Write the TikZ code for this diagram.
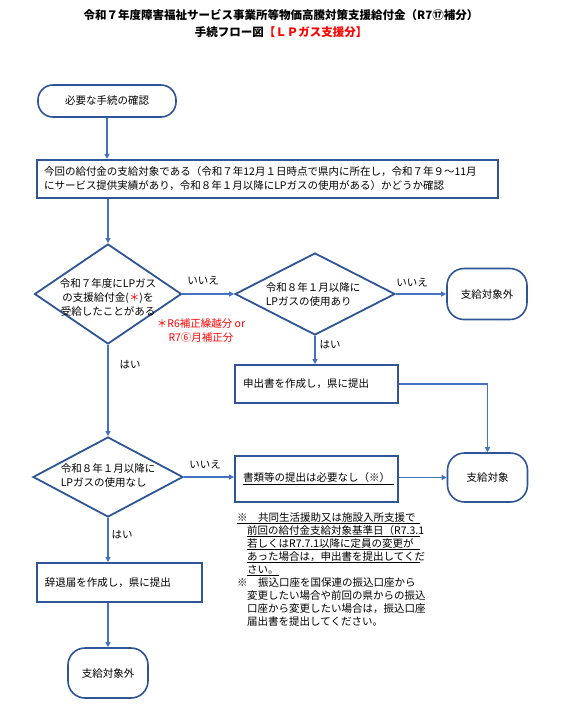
\documentclass[tikz,border=0pt]{standalone}
\usepackage{fontspec}
\setmainfont{Noto Sans CJK JP}
\usetikzlibrary{shapes.geometric,arrows.meta,calc}
\definecolor{bord}{HTML}{2F5597}
\definecolor{arr}{HTML}{4472C4}
\begin{document}
\begin{tikzpicture}[x=1pt,y=-1pt,
  every node/.style={font=\fontsize{10.5}{14}\selectfont, inner sep=0pt},
  box/.style={draw=bord, line width=1.8pt, rectangle, align=left},
  term/.style={draw=bord, line width=1.6pt, rectangle, rounded corners=17pt, minimum width=80pt, minimum height=51pt},
  dia/.style={draw=bord, line width=1.8pt, diamond, inner sep=0pt},
  flow/.style={draw=arr, line width=1.5pt, -{Triangle[length=5pt,width=5pt]}},
  ttl/.style={font=\fontsize{11.5}{14}\selectfont\bfseries},
  note/.style={anchor=base west, font=\fontsize{10.5}{13}\selectfont}
]
\useasboundingbox (0,0) rectangle (583,705);
\fill[white] (0,0) rectangle (583,705);

% title
\node[ttl] (t1) at (281,15) {令和７年度障害福祉サービス事業所等物価高騰対策支援給付金（R7⑰補分）};
\node[ttl] (t2) at (281,32) {手続フロー図\textcolor{red}{【ＬＰガス支援分】}};

% nodes
\node[draw=bord, line width=1.6pt, rectangle, rounded corners=15pt, minimum width=138pt, minimum height=32pt] (start) at (107,101) {必要な手続の確認};

\node[box, line width=2.2pt, text width=447pt, inner xsep=7pt, minimum height=38pt] (chk) at (267.5,179)
  {今回の給付金の支給対象である（令和７年12月１日時点で県内に所在し，令和７年９～11月\\にサービス提供実績があり，令和８年１月以降にLPガスの使用がある）かどうか確認};

\node[dia, minimum width=147pt, minimum height=100pt] (d1) at (108,294) {};
\node[align=center] (d1t) at (108,297) {令和７年度にLPガス\\の支援給付金(\textcolor{red}{＊})を\\受給したことがある};

\node[text=red, align=center] (nt) at (201,331) {＊R6補正繰越分 or\\R7⑥月補正分};

\node[dia, minimum width=160pt, minimum height=82pt] (d2) at (315,294) {};
\node[align=left] (d2t) at (313,295) {令和８年１月以降に\\LPガスの使用あり};

\node[term] (ng1) at (487,294) {支給対象外};

\node[box, text width=147pt, inner xsep=8pt, minimum height=38pt] (sub) at (316.5,384) {申出書を作成し，県に提出};

\node[dia, minimum width=150pt, minimum height=80pt] (d3) at (108,477) {};
\node[align=left] (d3t) at (108,476) {令和８年１月以降に\\LPガスの使用なし};

\node[box, text width=147pt, inner xsep=8pt, minimum height=46pt] (nodoc) at (316.5,479) {\raisebox{3pt}{\underline{書類等の提出は必要なし（※）\hspace{4pt}}}};

\node[term, minimum height=49pt] (ok) at (487.5,477.5) {支給対象};

\node[box, text width=149pt, inner xsep=8pt, minimum height=39pt] (jitai) at (119.5,582.5) {辞退届を作成し，県に提出};

\node[term, minimum height=50pt] (ng2) at (108,673) {支給対象外};

% notes
\node[note] (n1) at (237,521) {\underline{\makebox[183pt][l]{※\hspace{10.5pt}共同生活援助又は施設入所支援で}}};
\node[note] (n2) at (247,534) {\underline{\makebox[173pt][l]{前回の給付金支給対象基準日（R7.3.1}}};
\node[note] (n3) at (247,547) {\underline{\makebox[173pt][l]{若しくはR7.7.1以降に定員の変更が}}};
\node[note] (n4) at (247,560) {\underline{\makebox[173pt][l]{あった場合は，申出書を提出してくだ}}};
\node[note] (n5) at (247,573) {\underline{さい。}};
\node[note] (n6) at (237,586) {※\hspace{10.5pt}振込口座を国保連の振込口座から};
\node[note] (n7) at (247,599) {変更したい場合や前回の県からの振込};
\node[note] (n8) at (247,612) {口座から変更したい場合は，振込口座};
\node[note] (n9) at (247,625) {届出書を提出してください。};

% labels
\node (l1) at (203,281) {いいえ};
\node (l2) at (412,283) {いいえ};
\node (l3) at (205,465) {いいえ};
\node (l4) at (330,345) {はい};
\node (l5) at (130,365) {はい};
\node (l6) at (122,535) {はい};

% connectors
\draw[flow] (start.south) -- (start.south |- chk.north);
\draw[flow] (chk.south -| d1.north) -- (d1.north);
\draw[flow] (d1.east) -- (d2.west);
\draw[flow] (d2.east) -- (ng1.west);
\draw[flow] (d2.south) -- (d2.south |- sub.north);
\draw[flow] (sub.east) -| (ok.north);
\draw[flow] (d1.south) -- (d3.north);
\draw[flow] (d3.east) -- (nodoc.west |- d3.east);
\draw[flow] (nodoc.east |- ok.west) -- (ok.west);
\draw[flow] (d3.south) -- (d3.south |- jitai.north);
\draw[flow] (jitai.south -| ng2.north) -- (ng2.north);
\end{tikzpicture}
\end{document}
